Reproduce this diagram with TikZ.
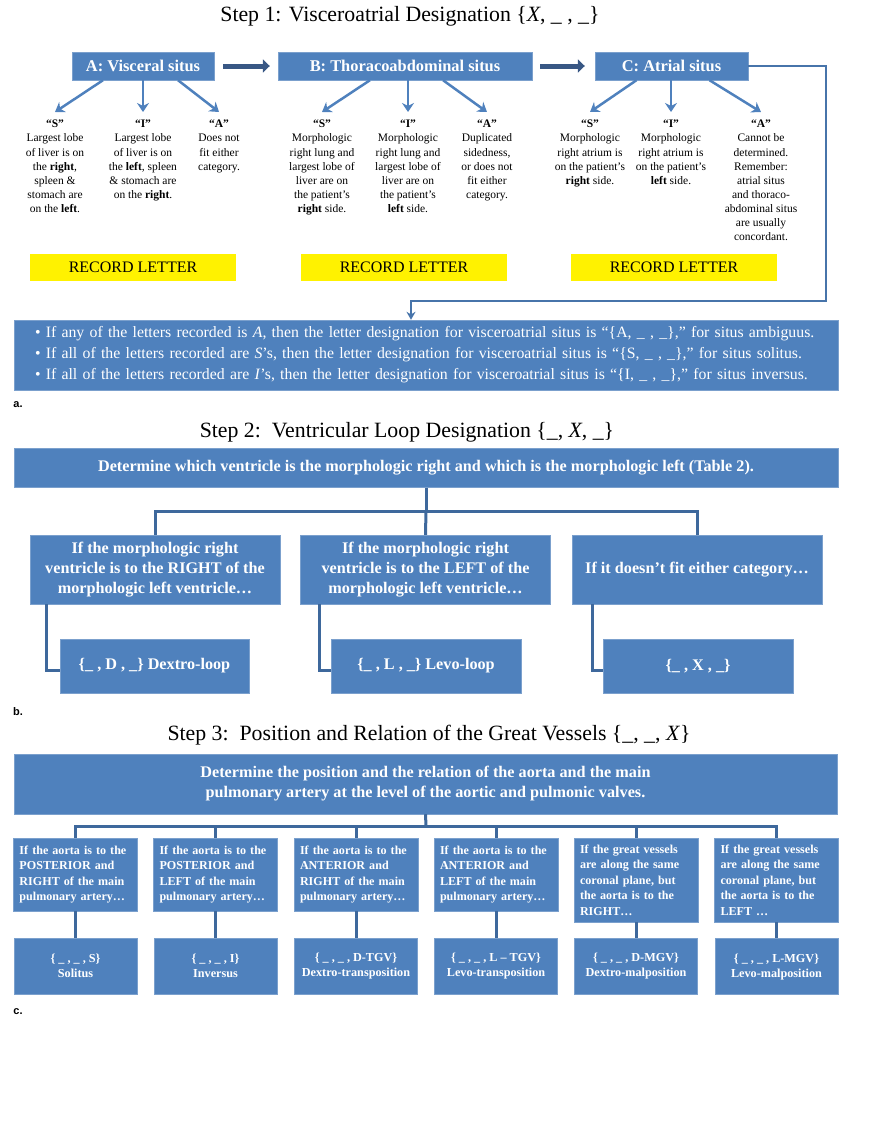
\documentclass[tikz,border=0pt]{standalone}
\usepackage{fontspec}
\setmainfont{Liberation Serif}
\newfontfamily\panelfont{Liberation Sans}
\usepackage{xcolor}
\usetikzlibrary{positioning,calc,arrows.meta}

\definecolor{boxblue}{RGB}{79,129,189}
\definecolor{lineblue}{RGB}{62,104,156}
\definecolor{darkarrow}{RGB}{56,87,132}
\definecolor{recordyellow}{RGB}{255,242,0}

\tikzset{
  steptitle/.style={font=\fontsize{21.8}{24}\selectfont, inner sep=0pt},
  panellabel/.style={font=\panelfont\bfseries\fontsize{11}{13}\selectfont, inner sep=0pt},
  headbox/.style={fill=boxblue, draw=boxblue!75!white, text=white, inner sep=0pt,
    font=\bfseries\fontsize{16.4}{19}\selectfont, minimum height=28pt},
  coltext/.style={align=center, anchor=north, inner sep=1pt, font=\fontsize{11.5}{14.1}\selectfont},
  recordbox/.style={fill=recordyellow, inner sep=0pt, minimum width=206pt, minimum height=27pt,
    font=\fontsize{16}{18}\selectfont},
  rulebox/.style={fill=boxblue, draw=boxblue!75!white, text=white, align=left, text width=782pt,
    inner xsep=21pt, inner ysep=0pt, minimum height=70pt, font=\fontsize{15.8}{21}\selectfont},
  bluebox/.style={fill=boxblue, draw=boxblue!75!white, text=white, align=center, inner sep=0pt,
    font=\bfseries\fontsize{16.2}{20}\selectfont},
  vesselbox/.style={fill=boxblue, draw=boxblue!75!white, text=white, align=left, anchor=north,
    text width=112pt, inner xsep=6pt, inner ysep=0pt, minimum width=123pt,
    font=\bfseries\fontsize{12.1}{15.5}\selectfont},
  resultbox/.style={fill=boxblue, draw=boxblue!75!white, text=white, align=center, anchor=north,
    inner sep=0pt, minimum width=123pt, minimum height=56pt, font=\bfseries\fontsize{12.2}{15}\selectfont},
  childarrow/.style={draw=boxblue, line width=2.5pt, -{Stealth[length=9pt,width=12pt]}},
  bigarrow/.style={draw=darkarrow, line width=5pt, -{Triangle[length=7pt,width=13pt]}},
  loopline/.style={draw=boxblue!90!black, line width=2pt, -{Stealth[length=8pt,width=9pt]}},
  treeline/.style={draw=lineblue, line width=3pt}
}

\begin{document}
\begin{tikzpicture}[x=1pt, y=-1pt]
  \useasboundingbox (0,0) rectangle (887,1146);

  % Step 1
  \node[steptitle] (title1) at (410,16) {Step 1: Visceroatrial Designation \{\textit{X}, \_ , \_\}};
  \node[headbox, minimum width=142pt] (visceral) at (143,66) {A: Visceral situs};
  \node[headbox, minimum width=254pt] (thoraco) at (405,66) {B: Thoracoabdominal situs};
  \node[headbox, minimum width=153pt] (atrial) at (671.5,66) {C: Atrial situs};
  \draw[bigarrow] ([xshift=9pt]visceral.east) -- ([xshift=-8pt]thoraco.west);
  \draw[bigarrow] ([xshift=8pt]thoraco.east) -- ([xshift=-10pt]atrial.west);

  \node[coltext] (visS) at (55,119) {\textbf{“S”}\\Largest lobe\\of liver is on\\the \textbf{right},\\spleen \&\\stomach are\\on the \textbf{left}.};
  \node[coltext] (visI) at (143,119) {\textbf{“I”}\\Largest lobe\\of liver is on\\the \textbf{left}, spleen\\\& stomach are\\on the \textbf{right}.};
  \node[coltext] (visA) at (219,119) {\textbf{“A”}\\Does not\\fit either\\category.};
  \node[coltext] (thoS) at (322,119) {\textbf{“S”}\\Morphologic\\right lung and\\largest lobe of\\liver are on\\the patient’s\\\textbf{right} side.};
  \node[coltext] (thoI) at (408,119) {\textbf{“I”}\\Morphologic\\right lung and\\largest lobe of\\liver are on\\the patient’s\\\textbf{left} side.};
  \node[coltext] (thoA) at (487,119) {\textbf{“A”}\\Duplicated\\sidedness,\\or does not\\fit either\\category.};
  \node[coltext] (atrS) at (590,119) {\textbf{“S”}\\Morphologic\\right atrium is\\on the patient’s\\\textbf{right} side.};
  \node[coltext] (atrI) at (671,119) {\textbf{“I”}\\Morphologic\\right atrium is\\on the patient’s\\\textbf{left} side.};
  \node[coltext] (atrA) at (761,119) {\textbf{“A”}\\Cannot be\\determined.\\Remember:\\atrial situs\\and thoraco-\\abdominal situs\\are usually\\concordant.};

  \draw[childarrow] ([xshift=-40pt]visceral.south) -- ([yshift=7pt]visS.north);
  \draw[childarrow] (visceral.south) -- ([yshift=7pt]visI.north);
  \draw[childarrow] ([xshift=35pt]visceral.south) -- ([yshift=7pt]visA.north);
  \draw[childarrow] ([xshift=-35pt]thoraco.south) -- ([yshift=7pt]thoS.north);
  \draw[childarrow] (thoraco.south -| thoI.north) -- ([yshift=7pt]thoI.north);
  \draw[childarrow] ([xshift=38pt]thoraco.south) -- ([yshift=7pt]thoA.north);
  \draw[childarrow] ([xshift=-35pt]atrial.south) -- ([yshift=7pt]atrS.north);
  \draw[childarrow] (atrial.south -| atrI.north) -- ([yshift=7pt]atrI.north);
  \draw[childarrow] ([xshift=38pt]atrial.south) -- ([yshift=7pt]atrA.north);

  \node[recordbox] (recA) at (133,267) {RECORD LETTER};
  \node[recordbox] (recB) at (404,267) {RECORD LETTER};
  \node[recordbox] (recC) at (674,267) {RECORD LETTER};

  \node[rulebox] (rules) at (426,355) {• If any of the letters recorded is \textit{A}, then the letter designation for visceroatrial situs is “\{A, \_ , \_\},” for situs ambiguus.\\
    • If all of the letters recorded are \textit{S}’s, then the letter designation for visceroatrial situs is “\{S, \_ , \_\},” for situs solitus.\\
    • If all of the letters recorded are \textit{I}’s, then the letter designation for visceroatrial situs is “\{I, \_ , \_\},” for situs inversus.};
  \coordinate (loopturn) at (826,301);
  \draw[loopline] (atrial.east) -| (loopturn) -| ([xshift=-15pt]rules.north);
  \node[panellabel] (labA) at (18,405) {a.};

  % Step 2
  \node[steptitle] (title2) at (407,432) {Step 2:\ \ Ventricular Loop Designation \{\_, \textit{X}, \_\}};
  \node[bluebox, minimum width=824pt, minimum height=39pt] (ventq) at (426,468) {Determine which ventricle is the morphologic right and which is the morphologic left (Table 2).};
  \node[bluebox, minimum width=250pt, minimum height=69pt] (ifright) at (155,569.5) {If the morphologic right\\ventricle is to the RIGHT of the\\morphologic left ventricle…};
  \node[bluebox, minimum width=250pt, minimum height=69pt] (ifleft) at (425.5,569.5) {If the morphologic right\\ventricle is to the LEFT of the\\morphologic left ventricle…};
  \node[bluebox, minimum width=250pt, minimum height=69pt] (ifneither) at (697,569.5) {If it doesn’t fit either category…};
  \node[bluebox, minimum width=189pt, minimum height=54pt] (dloop) at (154.5,666) {\{\_ , D , \_\} Dextro-loop};
  \node[bluebox, minimum width=190pt, minimum height=54pt] (lloop) at (426,666) {\{\_ , L , \_\} Levo-loop};
  \node[bluebox, minimum width=190pt, minimum height=54pt] (xloop) at (698,666) {\{\_ , X , \_\}};

  \coordinate (split2) at (426,511);
  \draw[treeline] (ventq.south) -- (split2);
  \draw[treeline] (ifright.north) |- (split2) -| (ifneither.north);
  \draw[treeline] (split2) -- (ifleft.north);
  \draw[treeline] ([xshift=17pt]ifright.south west) |- ([yshift=-4pt]dloop.west);
  \draw[treeline] ([xshift=19pt]ifleft.south west) |- ([yshift=-4pt]lloop.west);
  \draw[treeline] ([xshift=21pt]ifneither.south west) |- ([yshift=-4pt]xloop.west);
  \node[panellabel] (labB) at (18,712) {b.};

  % Step 3
  \node[steptitle] (title3) at (429,735) {Step 3:\ \ Position and Relation of the Great Vessels \{\_, \_, \textit{X}\}};
  \node[bluebox, minimum width=823pt, minimum height=60pt] (vesselq) at (425.5,784) {Determine the position and the relation of the aorta and the main\\pulmonary artery at the level of the aortic and pulmonic valves.};

  \node[vesselbox, minimum height=73pt] (postright) at (75.5,838) {If the aorta is to the\\POSTERIOR and\\RIGHT of the main\\pulmonary artery…};
  \node[vesselbox, minimum height=73pt] (postleft) at (215.5,838) {If the aorta is to the\\POSTERIOR and\\LEFT of the main\\pulmonary artery…};
  \node[vesselbox, minimum height=73pt] (antright) at (356,838) {If the aorta is to the\\ANTERIOR and\\RIGHT of the main\\pulmonary artery…};
  \node[vesselbox, minimum height=73pt] (antleft) at (496,838) {If the aorta is to the\\ANTERIOR and\\LEFT of the main\\pulmonary artery…};
  \node[vesselbox, minimum height=84pt] (planeright) at (636,838) {If the great vessels\\are along the same\\coronal plane, but\\the aorta is to the\\RIGHT…};
  \node[vesselbox, minimum height=84pt] (planeleft) at (776.5,838) {If the great vessels\\are along the same\\coronal plane, but\\the aorta is to the\\LEFT …};

  \node[resultbox] (solitus) at (75.5,938) {\{ \_ , \_ , S\}\\Solitus};
  \node[resultbox] (inversus) at (215.5,938) {\{ \_ , \_ , I\}\\Inversus};
  \node[resultbox] (dtgv) at (356,938) {\{ \_ , \_ , D-TGV\}\\Dextro-transposition};
  \node[resultbox] (ltgv) at (496,938) {\{ \_ , \_ , L – TGV\}\\Levo-transposition};
  \node[resultbox] (dmgv) at (636,938) {\{ \_ , \_ , D-MGV\}\\Dextro-malposition};
  \node[resultbox, text depth=-3pt] (lmgv) at (776.5,938) {\{ \_ , \_ , L-MGV\}\\Levo-malposition};

  \coordinate (split3) at (426,826);
  \draw[treeline] (vesselq.south) -- (split3);
  \draw[treeline] (postright.north) |- (split3) -| (planeleft.north);
  \foreach \v in {postleft,antright,antleft,planeright}
    \draw[treeline] (\v.north |- split3) -- (\v.north);
  \foreach \v/\r in {postright/solitus,postleft/inversus,antright/dtgv,antleft/ltgv,planeright/dmgv,planeleft/lmgv}
    \draw[treeline] (\v.south) -- (\r.north);
  \node[panellabel] (labC) at (18,1012) {c.};
\end{tikzpicture}
\end{document}
